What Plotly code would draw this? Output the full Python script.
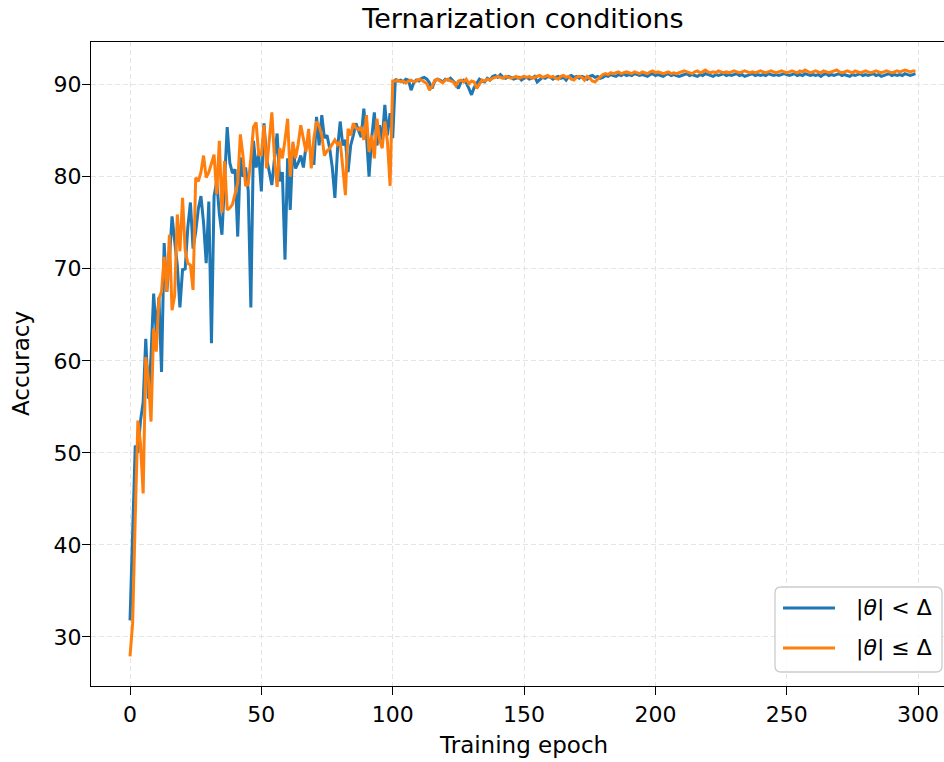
import plotly.graph_objects as go

# ---- data -------------------------------------------------------------
epochs = list(range(300))

acc_strict = [  # |theta| < Delta
    31.8, 41.0, 50.8, 50.0, 53.5, 55.5, 62.4, 55.9, 60.5, 67.3,
    63.0, 66.9, 58.8, 72.8, 67.5, 71.0, 75.7, 73.0, 70.4, 65.8,
    69.9, 70.0, 74.5, 77.2, 72.2, 74.0, 76.5, 77.9, 75.0, 70.6,
    77.3, 61.9, 77.9, 79.5, 76.0, 73.7, 80.0, 85.4, 81.5, 80.4,
    80.8, 73.5, 82.1, 80.0, 81.0, 78.5, 65.8, 83.9, 81.0, 82.5,
    78.4,
    85.8, 82.0, 80.5, 79.1, 82.0, 84.7, 79.5, 80.5, 71.0,
    82.0, 76.4, 83.4, 80.9, 81.5, 82.3, 81.0, 83.4, 83.8, 82.5,
    81.3, 86.5, 83.4, 86.7, 84.2, 84.5, 83.1, 81.0, 77.7, 83.0,
    86.0, 83.4, 84.0, 80.5, 83.4, 84.5, 85.8, 85.0, 84.3, 87.4,
    84.5, 80.0, 84.2, 87.0, 83.4, 85.6, 84.0, 87.8, 84.5, 86.9,
    84.2,
    90.6, 90.4, 90.5, 90.3, 90.6, 90.5, 89.4, 90.2, 90.5, 90.4,
    90.7, 90.8, 90.6, 90.2, 89.6, 90.4, 90.6, 90.5, 90.3, 90.6,
    90.5, 90.7, 90.4, 90.1, 89.6, 90.3, 90.5, 90.2, 89.6, 88.9,
    89.7, 90.2, 90.6, 90.4, 90.3, 90.7, 90.5, 90.9, 91.0, 90.8,
    91.1, 90.8, 90.7, 90.9, 90.8, 90.6, 90.7, 90.8, 90.5, 90.7,
    90.8, 90.6, 90.7, 90.9, 90.3, 90.6, 90.8, 90.7, 90.9, 90.8,
    90.6, 90.8, 90.9, 90.7, 90.8, 90.5, 90.9, 91.0, 90.8, 90.9,
    90.7, 90.9, 90.8, 90.6, 90.9, 91.0, 90.8, 90.9, 90.7, 90.8,
    91.0, 90.9, 91.1, 91.0, 90.9, 91.1, 91.0, 91.2, 91.0, 91.1,
    91.0, 91.2, 91.1, 91.0, 91.1, 91.0, 90.9, 91.1, 91.2, 91.0,
    91.1, 91.0, 90.9, 91.1, 91.2, 91.0, 91.1, 91.0, 90.9, 91.0,
    91.1, 91.2, 91.0, 91.1, 91.0, 90.9, 91.1, 91.0, 91.2, 91.1,
    91.0, 90.9, 91.1, 91.0, 91.1, 91.2, 91.0, 91.1, 91.0, 91.1,
    91.2, 91.0, 91.1, 90.9, 91.0, 91.1, 91.2, 91.0, 91.1, 91.0,
    91.1, 91.0, 91.2, 91.1, 91.0, 91.1, 91.0, 91.1, 91.2, 91.1,
    91.0, 91.1, 91.2, 91.0, 91.1, 91.0, 91.2, 91.1, 91.0, 91.1,
    91.0, 91.1, 90.9, 91.1, 91.2, 91.0, 91.1, 91.0, 91.1, 91.2,
    91.0, 91.1, 91.0, 90.9, 91.1, 91.0, 91.1, 91.2, 91.0, 91.1,
    91.0, 91.1, 91.2, 91.0, 91.1, 90.9, 91.0, 91.1, 91.2, 91.0,
    91.1, 91.0, 91.1, 91.0, 91.2, 91.1, 91.0, 91.1, 91.2,
]

acc_loose = [  # |theta| <= Delta
    27.9, 31.5, 43.0, 53.5, 51.0, 45.6, 60.4, 58.0, 53.4, 63.5,
    61.0, 66.8, 67.5, 71.3, 67.5, 73.7, 65.5, 67.1, 75.9, 71.9,
    77.7, 72.0, 70.6, 70.4, 67.7, 79.9, 79.5, 80.5, 82.3, 79.9,
    80.5, 81.5, 82.4, 78.1, 83.9, 76.1, 81.7, 76.4, 76.6, 77.0,
    78.1, 79.3, 84.6, 82.3, 79.0, 79.2, 82.0, 85.4, 85.9, 82.4,
    82.4,
    85.6, 80.9, 84.0, 87.0, 82.0, 78.9, 83.1, 82.0, 84.0,
    86.3, 80.0, 83.8, 82.0, 83.5, 85.6, 84.0, 82.7, 85.2, 80.9,
    84.2, 86.0, 85.5, 84.5, 82.3, 82.8, 83.1, 83.6, 84.0, 83.5,
    83.8, 81.0, 78.0, 85.2, 84.5, 85.8, 85.3, 85.1, 85.4, 84.0,
    86.7, 82.7, 84.5, 82.0, 86.3, 84.0, 83.1, 86.0, 83.8, 79.0,
    90.4,
    90.4, 90.5, 90.3, 90.4, 90.2, 90.4, 90.5, 90.3, 90.4, 90.6,
    90.5, 90.3, 90.1, 89.4, 89.8, 90.5, 90.6, 90.4, 90.2, 90.5,
    90.6, 90.4, 90.3, 89.9, 90.4, 90.5, 90.3, 90.6, 90.1, 90.4,
    90.3, 89.6, 90.1, 90.5, 90.4, 90.6, 90.5, 90.7, 90.8, 90.9,
    90.8, 90.7, 90.9, 90.8, 90.7, 90.8, 90.9, 90.7, 90.8, 90.9,
    90.8, 90.9, 90.7, 90.8, 90.9, 91.0, 90.8, 90.9, 91.0, 90.8,
    90.9, 90.7, 90.6, 90.9, 91.0, 90.8, 90.9, 90.6, 90.5, 90.8,
    90.9, 90.8, 90.5, 90.9, 90.7, 90.4, 90.3, 90.6, 90.9, 91.1,
    91.2, 91.1, 91.3, 91.2, 91.3, 91.4, 91.2, 91.3, 91.4, 91.3,
    91.2, 91.4, 91.3, 91.2, 91.4, 91.3, 91.2, 91.4, 91.5, 91.3,
    91.4, 91.3, 91.2, 91.3, 91.4, 91.2, 91.3, 91.2, 91.3, 91.4,
    91.5, 91.4, 91.3, 91.2, 91.4, 91.5, 91.3, 91.4, 91.6, 91.4,
    91.3, 91.4, 91.3, 91.5, 91.4, 91.3, 91.4, 91.3, 91.4, 91.5,
    91.4, 91.3, 91.4, 91.5, 91.4, 91.3, 91.4, 91.3, 91.4, 91.5,
    91.4, 91.3, 91.4, 91.5, 91.4, 91.3, 91.4, 91.5, 91.4, 91.3,
    91.4, 91.5, 91.4, 91.3, 91.5, 91.4, 91.6, 91.4, 91.3, 91.4,
    91.5, 91.4, 91.3, 91.5, 91.4, 91.3, 91.4, 91.5, 91.6, 91.4,
    91.3, 91.4, 91.5, 91.4, 91.3, 91.5, 91.4, 91.3, 91.4, 91.5,
    91.4, 91.3, 91.4, 91.5, 91.4, 91.3, 91.4, 91.5, 91.4, 91.3,
    91.4, 91.5, 91.4, 91.5, 91.6, 91.5, 91.4, 91.5, 91.5,
]

series_names = ["|<i>θ</i>| &lt; Δ", "|<i>θ</i>| ≤ Δ"]
series_colors = ["#1f77b4", "#ff7f0e"]
x_ticks = [0, 50, 100, 150, 200, 250, 300]
y_ticks = [30, 40, 50, 60, 70, 80, 90]

# ---- layout geometry (pixels) -------------------------------------------
W, H = 944, 762
ML, MR, MT, MB = 91, 0, 42, 76
PW, PH = W - ML - MR, H - MT - MB
FONT = "DejaVu Sans"
LW = 3.0


def px(xp):
    return (xp - ML) / PW


def py(yp):
    return (H - MB - yp) / PH


fig = go.Figure()
for vals, name, col in zip([acc_strict, acc_loose], series_names, series_colors):
    fig.add_trace(go.Scatter(
        x=epochs, y=vals, mode="lines", name=name,
        line=dict(color=col, width=LW), showlegend=False,
    ))

grid = dict(showgrid=True, gridcolor="#e4e4e4", gridwidth=1.2, griddash="5px,3px")
fig.update_xaxes(
    range=[-14.85, 309.86], tickvals=x_ticks, ticks="outside", ticklen=8,
    tickwidth=1.3, tickcolor="black", showline=True, linecolor="black",
    linewidth=1.4, mirror=True, zeroline=False, automargin=False,
    tickfont=dict(family=FONT, size=22, color="black"), **grid,
)
fig.update_yaxes(
    range=[24.67, 94.64], tickvals=y_ticks, ticks="outside", ticklen=8,
    tickwidth=1.3, tickcolor="black", showline=True, linecolor="black",
    linewidth=1.4, mirror=False, zeroline=False, automargin=False,
    ticklabelstandoff=-4,
    tickfont=dict(family=FONT, size=22, color="black"), **grid,
)

annotations = [
    dict(text="Training epoch", x=px(523), y=py(745), xref="paper", yref="paper",
         showarrow=False, xanchor="center", yanchor="middle",
         font=dict(family=FONT, size=23, color="black")),
    dict(text="Accuracy", x=px(21), y=py(364), xref="paper", yref="paper",
         showarrow=False, xanchor="center", yanchor="middle", textangle=-90,
         font=dict(family=FONT, size=23, color="black")),
]

# legend box drawn by hand
lx0, ly0, lx1, ly1, r = 775, 587, 942, 672, 6
rx, ry = r / PW, r / PH
a0, a1, b0, b1 = px(lx0), px(lx1), py(ly1), py(ly0)
path = (f"M {a0 + rx},{b1} L {a1 - rx},{b1} Q {a1},{b1} {a1},{b1 - ry} "
        f"L {a1},{b0 + ry} Q {a1},{b0} {a1 - rx},{b0} L {a0 + rx},{b0} "
        f"Q {a0},{b0} {a0},{b0 + ry} L {a0},{b1 - ry} Q {a0},{b1} {a0 + rx},{b1} Z")
shapes = [dict(type="path", path=path, xref="paper", yref="paper",
               fillcolor="rgba(255,255,255,0.85)", line=dict(color="#cccccc", width=1.3))]
for i, (name, col) in enumerate(zip(series_names, series_colors)):
    yc = 608 + 40 * i
    shapes.append(dict(type="line", xref="paper", yref="paper",
                       x0=px(783), x1=px(835), y0=py(yc), y1=py(yc),
                       line=dict(color=col, width=LW)))
    annotations.append(dict(text=name, x=px(854), y=py(yc), xref="paper", yref="paper",
                            showarrow=False, xanchor="left", yanchor="middle",
                            font=dict(family=FONT, size=22, color="black")))

fig.update_layout(
    width=W, height=H, autosize=False,
    margin=dict(l=ML, r=MR, t=MT, b=MB, pad=0),
    paper_bgcolor="white", plot_bgcolor="white",
    title=dict(text="Ternarization conditions", x=523 / W, y=1 - 19 / H,
               xref="container", yref="container", xanchor="center", yanchor="middle",
               font=dict(family=FONT, size=27, color="black")),
    annotations=annotations, shapes=shapes,
)

fig.write_html("out.html")
